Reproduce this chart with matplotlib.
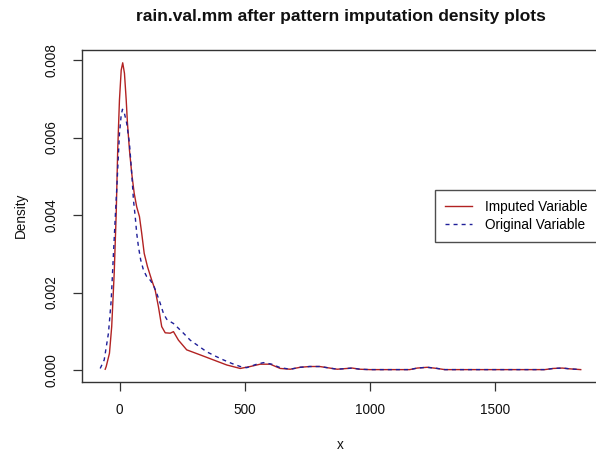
import numpy as np
import matplotlib
matplotlib.use("Agg")
import matplotlib.pyplot as plt

plt.rcParams['font.family'] = ['Liberation Sans', 'DejaVu Sans']

# Density curves (x in mm, y = density)
imp_x = [-58, -54, -41, -32, -22, -14, -8, -1, 6, 12, 19, 26, 31, 39, 48, 58, 68, 79,
         88, 98, 111, 128, 142, 155, 168, 182, 202, 215, 235, 268, 322, 375, 428, 482,
         522, 562, 602, 642, 682, 722, 760, 800, 830, 870, 910, 930, 960, 1000, 1100,
         1160, 1190, 1230, 1270, 1300, 1500, 1700, 1734, 1770, 1800, 1844]
imp_y = [0.00002, 0.00009, 0.00043, 0.00112, 0.0025, 0.00404, 0.00568, 0.00697, 0.00774,
         0.00793, 0.00766, 0.00697, 0.00637, 0.00568, 0.00508, 0.00456, 0.00421, 0.00396,
         0.00353, 0.00301, 0.00267, 0.00232, 0.00206, 0.00163, 0.00112, 0.00096, 0.00095,
         0.00099, 0.00077, 0.00052, 0.00039, 0.00026, 0.00013, 0.00004,
         0.00009, 0.00015, 0.00015, 0.00004, 0.00002, 0.00007, 0.00009, 0.00009, 0.00006,
         0.00002, 0.00004, 0.00005, 0.00002, 0.00001, 0.00001,
         0.00001, 0.00005, 0.00007, 0.00004, 0.00001, 0.00001, 0.00001, 0.00004, 0.00005,
         0.00003, 0.00001]

orig_x = [-78, -62, -45, -34, -25, -17, -12, -1, 6, 11, 19, 28, 39, 48, 55, 62, 68, 75,
          84, 95, 108, 122, 135, 148, 162, 175, 188, 202, 215, 228, 255, 282, 315, 348,
          382, 415, 448, 482, 508, 548, 575, 608, 642, 682, 722, 760, 800, 830, 870, 910,
          930, 960, 1000, 1100, 1160, 1190, 1230, 1270, 1300, 1500, 1700, 1734, 1770,
          1800, 1844]
orig_y = [0.00004, 0.00026, 0.00095, 0.0018, 0.0030, 0.00404, 0.00465, 0.0061, 0.00658,
          0.00673, 0.00662, 0.00637, 0.00585, 0.00508, 0.00439, 0.00396, 0.00353, 0.00318,
          0.00284, 0.00258, 0.00241, 0.00232, 0.00219, 0.00198, 0.00172, 0.00146, 0.00131,
          0.00125, 0.0012, 0.00112, 0.00095, 0.00077, 0.00062, 0.00047,
          0.00036, 0.00026, 0.00017, 0.00009, 0.00006, 0.00015, 0.00019, 0.00015, 0.00006,
          0.00002, 0.00007, 0.00009, 0.00009, 0.00006, 0.00002, 0.00004,
          0.00005, 0.00002, 0.00001, 0.00001, 0.00001, 0.00005, 0.00007, 0.00004, 0.00001,
          0.00001, 0.00001, 0.00004, 0.00005, 0.00003, 0.00001]

xticks = [0, 500, 1000, 1500]
yticks = [0.000, 0.002, 0.004, 0.006, 0.008]
ytick_labels = ['0.000', '0.002', '0.004', '0.006', '0.008']

W, H = 596, 454
fig = plt.figure(figsize=(W / 100, H / 100), dpi=100)
# box in pixels: left 81.7, right 600 (cut off), top 50, bottom 381.7
ax = fig.add_axes([81.7 / W, (H - 381.7) / H, (600 - 81.7) / W, (381.7 - 50) / H])

ax.plot(imp_x, imp_y, color='#B22222', lw=1.0, label='Imputed Variable')
ax.plot(orig_x, orig_y, color='#1F1F99', lw=1.0, linestyle=(0, (2.9, 2.9)),
        label='Original Variable')

ax.set_xlim(-152, 1921)
ax.set_ylim(-0.000302, 0.00826)
ax.set_xticks(xticks)
ax.set_xticklabels([str(t) for t in xticks])
ax.set_yticks(yticks)
ax.set_yticklabels(ytick_labels, rotation=90, va='center')

for s in ax.spines.values():
    s.set_color('#333333')
    s.set_linewidth(1.0)
ax.tick_params(direction='out', length=6.5, width=0.9, color='#333333',
               labelsize=9.8, labelcolor='#111111')
ax.tick_params(axis='x', pad=8.5)
ax.tick_params(axis='y', pad=10)

fig.text(340.8 / W, 1 - 16 / H, 'rain.val.mm after pattern imputation density plots',
         ha='center', va='center', fontsize=12.5, fontweight='bold', color='#111111')
fig.text(21 / W, 1 - 215 / H, 'Density', rotation=90, ha='center', va='center',
         fontsize=9.8, color='#111111')
fig.text(340 / W, 1 - 445 / H, 'x', ha='center', va='center', fontsize=9.8,
         color='#111111')

leg = ax.legend(loc='upper left', bbox_to_anchor=((435 - 81.7) / (600 - 81.7), (381.7 - 190) / (381.7 - 50)),
                borderaxespad=0, fancybox=False, frameon=True, fontsize=9.8,
                handlelength=2.0, handletextpad=0.95, borderpad=0.75,
                labelspacing=0.25)
leg.get_frame().set_edgecolor('#222222')
leg.get_frame().set_linewidth(1.0)

fig.savefig('out.png', dpi=100)
